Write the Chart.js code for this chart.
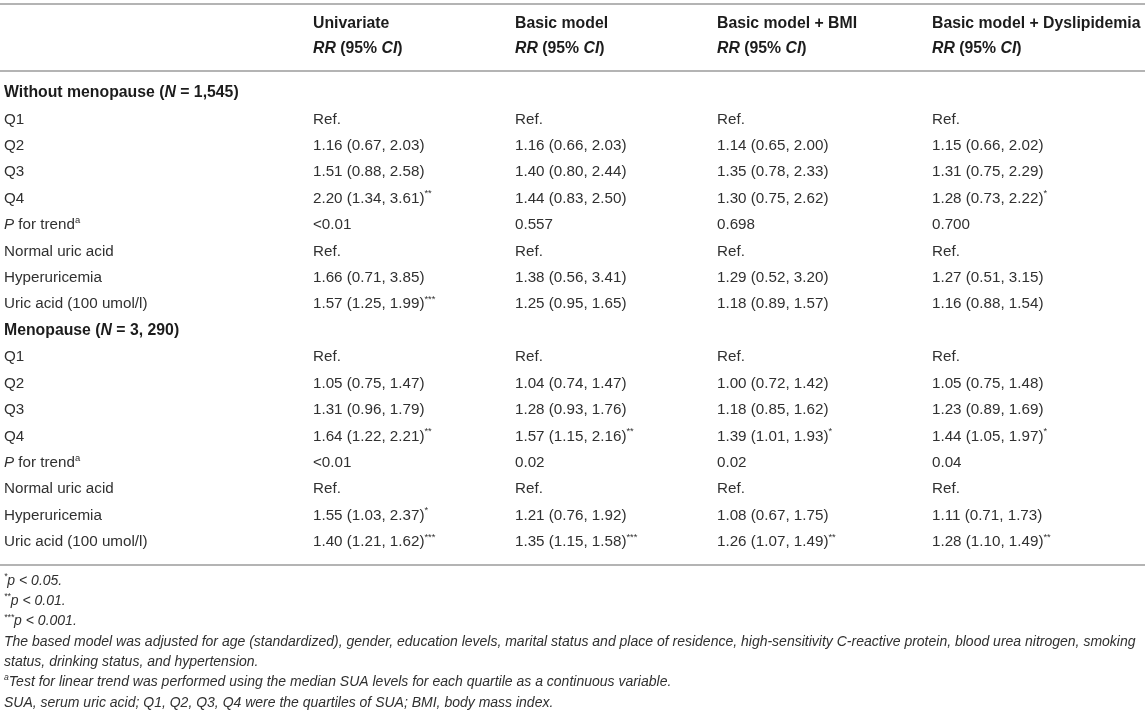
<!DOCTYPE html>
<html>
<head>
<meta charset="utf-8">
<style>
html,body{margin:0;padding:0;background:#fff;}
#wrap{width:1145px;height:714px;position:relative;}
</style>
<script src="https://cdn.jsdelivr.net/npm/chart.js@4.4.1/dist/chart.umd.min.js"></script>
</head>
<body>
<div id="wrap"><canvas id="c" width="1145" height="714"></canvas></div>
<script>
// ---- Data ----
const columnHeaders = ['', 'Univariate', 'Basic model', 'Basic model + BMI', 'Basic model + Dyslipidemia'];
const subHeader = '_RR_ (95% _CI_)';
const rowLabels = [
  'Without menopause (_N_ = 1,545)',
  'Q1', 'Q2', 'Q3', 'Q4', '_P_ for trend^a^', 'Normal uric acid', 'Hyperuricemia', 'Uric acid (100 umol/l)',
  'Menopause (_N_ = 3, 290)',
  'Q1 ', 'Q2 ', 'Q3 ', 'Q4 ', '_P_ for trend^a^ ', 'Normal uric acid ', 'Hyperuricemia ', 'Uric acid (100 umol/l) '
];
const groupRows = [0, 9];
const univariate = [
  '', 'Ref.', '1.16 (0.67, 2.03)', '1.51 (0.88, 2.58)', '2.20 (1.34, 3.61)^**^', '<0.01', 'Ref.', '1.66 (0.71, 3.85)', '1.57 (1.25, 1.99)^***^',
  '', 'Ref.', '1.05 (0.75, 1.47)', '1.31 (0.96, 1.79)', '1.64 (1.22, 2.21)^**^', '<0.01', 'Ref.', '1.55 (1.03, 2.37)^*^', '1.40 (1.21, 1.62)^***^'
];
const basicModel = [
  '', 'Ref.', '1.16 (0.66, 2.03)', '1.40 (0.80, 2.44)', '1.44 (0.83, 2.50)', '0.557', 'Ref.', '1.38 (0.56, 3.41)', '1.25 (0.95, 1.65)',
  '', 'Ref.', '1.04 (0.74, 1.47)', '1.28 (0.93, 1.76)', '1.57 (1.15, 2.16)^**^', '0.02', 'Ref.', '1.21 (0.76, 1.92)', '1.35 (1.15, 1.58)^***^'
];
const basicBMI = [
  '', 'Ref.', '1.14 (0.65, 2.00)', '1.35 (0.78, 2.33)', '1.30 (0.75, 2.62)', '0.698', 'Ref.', '1.29 (0.52, 3.20)', '1.18 (0.89, 1.57)',
  '', 'Ref.', '1.00 (0.72, 1.42)', '1.18 (0.85, 1.62)', '1.39 (1.01, 1.93)^*^', '0.02', 'Ref.', '1.08 (0.67, 1.75)', '1.26 (1.07, 1.49)^**^'
];
const basicDyslipidemia = [
  '', 'Ref.', '1.15 (0.66, 2.02)', '1.31 (0.75, 2.29)', '1.28 (0.73, 2.22)^*^', '0.700', 'Ref.', '1.27 (0.51, 3.15)', '1.16 (0.88, 1.54)',
  '', 'Ref.', '1.05 (0.75, 1.48)', '1.23 (0.89, 1.69)', '1.44 (1.05, 1.97)^*^', '0.04', 'Ref.', '1.11 (0.71, 1.73)', '1.28 (1.10, 1.49)^**^'
];
const footnotes = [
  '^*^p < 0.05.',
  '^**^p < 0.01.',
  '^***^p < 0.001.',
  'The based model was adjusted for age (standardized), gender, education levels, marital status and place of residence, high-sensitivity C-reactive protein, blood urea nitrogen, smoking',
  'status, drinking status, and hypertension.',
  '^a^Test for linear trend was performed using the median SUA levels for each quartile as a continuous variable.',
  'SUA, serum uric acid; Q1, Q2, Q3, Q4 were the quartiles of SUA; BMI, body mass index.'
];

// ---- Layout (not data) ----
const colX = [4, 313, 515, 717, 932];
const FONT = '"Liberation Sans", Arial, Helvetica, sans-serif';
const BODY_SIZE = 15.2;
const BOLD_SIZE = 15.8;
const FOOT_SIZE = 14;
const TEXT_COLOR = '#303030';
const BOLD_COLOR = '#1c1c1c';
const LINE_COLOR = '#b4b4b4';

const cellColumns = [rowLabels.map(r => r.replace(/ +$/, '')), univariate, basicModel, basicBMI, basicDyslipidemia];

function drawRich(ctx, str, x, y, o) {
  let italic = !!o.italic, sup = false, cx = x;
  const parts = str.split(/([_^])/);
  for (const p of parts) {
    if (p === '_') { italic = !italic; continue; }
    if (p === '^') { sup = !sup; continue; }
    if (!p) continue;
    const sz = sup ? o.size * 0.62 : o.size;
    ctx.font = (italic ? 'italic ' : '') + (o.bold ? 'bold ' : '') + sz + 'px ' + FONT;
    ctx.fillStyle = o.color || TEXT_COLOR;
    ctx.textBaseline = 'middle';
    ctx.textAlign = 'left';
    ctx.fillText(p, cx, sup ? y - o.size * 0.32 : y);
    cx += ctx.measureText(p).width;
  }
}

const tablePlugin = {
  id: 'tablePlugin',
  afterDatasetsDraw(chart) {
    const ctx = chart.ctx;
    const area = chart.chartArea;
    const W = chart.width;
    ctx.save();
    ctx.strokeStyle = LINE_COLOR;
    ctx.lineWidth = 2;
    const hline = (yy) => { ctx.beginPath(); ctx.moveTo(0, yy); ctx.lineTo(W, yy); ctx.stroke(); };
    hline(area.top - 89);
    hline(area.top - 22);
    hline(area.bottom + 23);
    const xs = chart.scales.x;
    for (let c = 1; c < columnHeaders.length; c++) {
      const px = xs.getPixelForValue(colX[c]);
      drawRich(ctx, columnHeaders[c], px, area.top - 69, { size: BOLD_SIZE, bold: true, color: BOLD_COLOR });
      drawRich(ctx, subHeader, px, area.top - 44, { size: BOLD_SIZE, bold: true, color: BOLD_COLOR });
    }
    chart.data.datasets.forEach((ds, di) => {
      const meta = chart.getDatasetMeta(di);
      meta.data.forEach((pt, ri) => {
        const txt = ds.texts[ri];
        if (!txt) return;
        const isGroup = groupRows.includes(ri);
        drawRich(ctx, txt, pt.x, pt.y, { size: isGroup ? BOLD_SIZE : BODY_SIZE, bold: isGroup, color: isGroup ? BOLD_COLOR : TEXT_COLOR });
      });
    });
    footnotes.forEach((f, i) => {
      drawRich(ctx, f, 4, area.bottom + 39 + i * 20.3, { size: FOOT_SIZE, italic: true });
    });
    ctx.restore();
  }
};

const datasets = cellColumns.map((texts, ci) => ({
  label: columnHeaders[ci] || 'Row',
  texts: texts,
  data: rowLabels.map(r => ({ x: colX[ci], y: r })),
  pointRadius: 0,
  pointHoverRadius: 0,
  showLine: false
}));

new Chart(document.getElementById('c'), {
  type: 'scatter',
  data: { datasets },
  options: {
    responsive: false,
    animation: false,
    events: [],
    layout: { padding: { top: 93, bottom: 172, left: 0, right: 0 } },
    plugins: { legend: { display: false }, tooltip: { enabled: false } },
    scales: {
      x: { type: 'linear', min: 0, max: 1145, display: false },
      y: { type: 'category', labels: rowLabels, offset: false, display: false }
    }
  },
  plugins: [tablePlugin]
});
</script>
</body>
</html>
